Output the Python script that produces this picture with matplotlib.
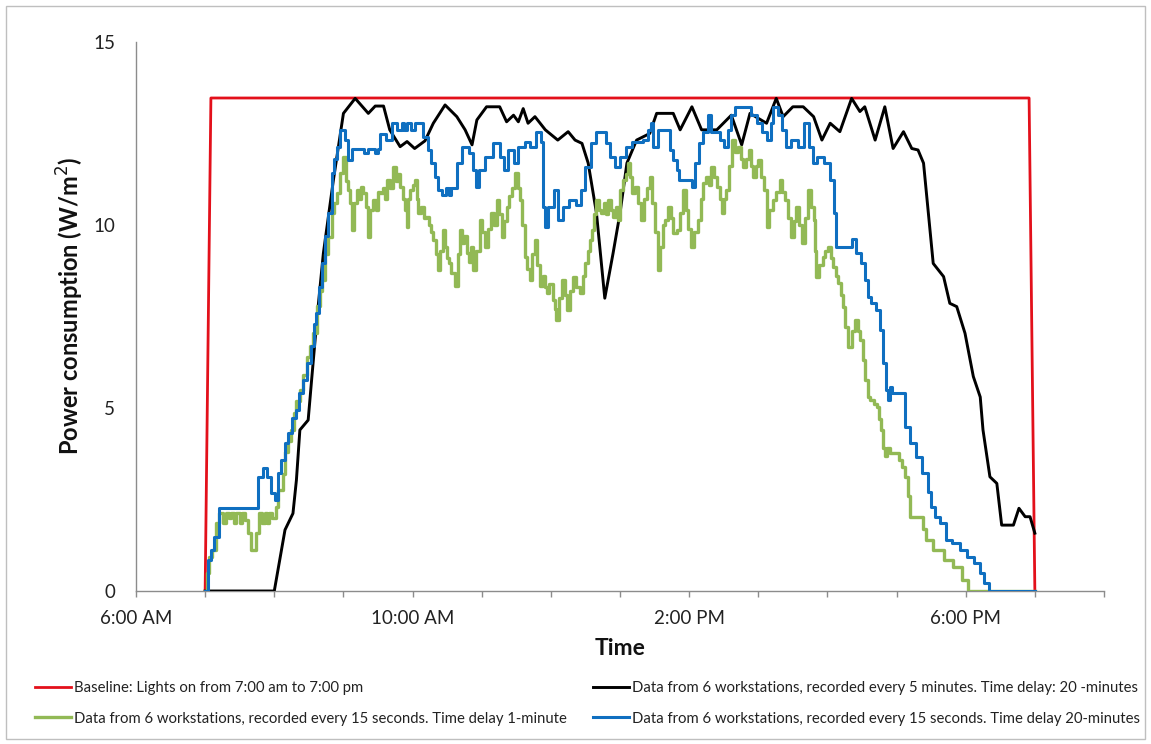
import matplotlib
matplotlib.use("Agg")
import matplotlib.pyplot as plt
from matplotlib.patches import Rectangle
from matplotlib.ticker import FixedLocator, FuncFormatter

plt.rcParams['font.family'] = ['Lato', 'DejaVu Sans']

# ---------------- data (hours of day, W/m2) ----------------
baseline_t = [7.0, 7.0833, 18.9167, 19.0]
baseline_v = [0.0, 13.47, 13.47, 0.0]

black_t = [7.0, 8.0, 8.155, 8.27, 8.32, 8.37, 8.49, 8.54, 8.62, 8.71, 8.855, 9.0, 9.17,
           9.36, 9.46, 9.58, 9.67, 9.82, 9.92, 10.03, 10.18, 10.3, 10.47, 10.64, 10.76,
           10.86, 10.93, 11.07, 11.26, 11.36, 11.46, 11.53, 11.6, 11.67, 11.77, 11.92,
           12.1, 12.25, 12.35, 12.45, 12.54, 12.66, 12.78, 12.9, 13.0, 13.1, 13.24, 13.43,
           13.53, 13.77, 13.87, 14.04, 14.18, 14.4, 14.61, 14.76, 14.88, 15.12, 15.26,
           15.36, 15.5, 15.65, 15.8, 15.92, 16.04, 16.18, 16.35, 16.47, 16.54, 16.69,
           16.83, 16.95, 17.1, 17.22, 17.31, 17.39, 17.46, 17.53, 17.68, 17.77, 17.87,
           17.99, 18.11, 18.21, 18.25, 18.35, 18.45, 18.52, 18.69, 18.77, 18.86, 18.93, 19.0]
black_v = [0.0, 0.0, 1.67, 2.12, 3.03, 4.4, 4.67, 5.77, 7.5, 9.23, 11.23, 13.05, 13.46,
           13.05, 13.25, 13.25, 12.6, 12.14, 12.28, 12.09, 12.3, 12.78, 13.28, 12.96, 12.6,
           12.19, 12.87, 13.23, 13.23, 12.82, 13.0, 12.82, 13.18, 12.78, 12.96, 12.6,
           12.32, 12.55, 12.32, 12.23, 11.69, 10.32, 8.0, 9.23, 10.32, 11.69, 12.32, 12.5,
           13.05, 13.05, 12.6, 13.23, 12.6, 12.6, 13.0, 12.19, 13.05, 12.78, 13.46,
           12.96, 13.23, 13.23, 12.96, 12.32, 12.78, 12.55, 13.46, 13.1, 13.23, 12.32,
           13.23, 12.09, 12.55, 12.09, 12.05, 11.69, 10.32, 8.95, 8.59, 7.86, 7.77,
           7.04, 5.86, 5.3, 4.4, 3.12, 2.94, 1.8, 1.8, 2.26, 2.03, 2.03, 1.58]

green_t = [7.00, 7.03, 7.06, 7.10, 7.15, 7.20, 7.26, 7.30, 7.35, 7.38, 7.42, 7.45, 7.50,
           7.53, 7.58, 7.62, 7.66, 7.74, 7.78, 7.82, 7.86, 7.90, 7.93, 7.97, 8.03, 8.06,
           8.12, 8.16, 8.20, 8.24, 8.28, 8.32, 8.37, 8.42, 8.48, 8.52, 8.56, 8.62, 8.66,
           8.69, 8.74, 8.78, 8.83, 8.87, 8.90, 8.95, 9.00, 9.04, 9.07, 9.10, 9.13, 9.15,
           9.19, 9.23, 9.26, 9.29, 9.33, 9.36, 9.38, 9.43, 9.47, 9.50, 9.53, 9.57, 9.60,
           9.63, 9.67, 9.72, 9.76, 9.79, 9.82, 9.86, 9.89, 9.92, 9.94, 9.96, 10.00, 10.04,
           10.06, 10.08, 10.12, 10.16, 10.20, 10.24, 10.27, 10.30, 10.34, 10.37, 10.40,
           10.44, 10.47, 10.50, 10.52, 10.56, 10.61, 10.65, 10.68, 10.72, 10.75, 10.78,
           10.82, 10.85, 10.88, 10.92, 10.97, 11.01, 11.05, 11.09, 11.14, 11.18, 11.22,
           11.25, 11.29, 11.32, 11.36, 11.40, 11.44, 11.48, 11.52, 11.55, 11.58, 11.62,
           11.66, 11.70, 11.73, 11.77, 11.80, 11.84, 11.88, 11.91, 11.94, 11.98, 12.03,
           12.06, 12.08, 12.12, 12.16, 12.20, 12.23, 12.27, 12.32, 12.36, 12.42, 12.46,
           12.49, 12.53, 12.56, 12.59, 12.63, 12.66, 12.70, 12.73, 12.77, 12.80, 12.83,
           12.87, 12.90, 12.94, 12.97, 13.00, 13.04, 13.08, 13.12, 13.15, 13.18, 13.22,
           13.26, 13.31, 13.35, 13.39, 13.43, 13.47, 13.50, 13.55, 13.58, 13.62, 13.65,
           13.70, 13.74, 13.77, 13.82, 13.87, 13.91, 13.95, 13.99, 14.03, 14.07, 14.13,
           14.17, 14.20, 14.24, 14.28, 14.32, 14.36, 14.40, 14.44, 14.47, 14.51, 14.54,
           14.58, 14.62, 14.66, 14.71, 14.75, 14.78, 14.82, 14.86, 14.90, 14.93, 14.97,
           15.00, 15.04, 15.08, 15.12, 15.16, 15.22, 15.26, 15.31, 15.35, 15.39, 15.43,
           15.48, 15.52, 15.55, 15.59, 15.63, 15.67, 15.72, 15.76, 15.80, 15.82, 15.84,
           15.88, 15.94, 15.97, 16.01, 16.05, 16.08, 16.12, 16.15, 16.19, 16.23, 16.26,
           16.30, 16.35, 16.40, 16.44, 16.47, 16.51, 16.54, 16.58, 16.62, 16.67, 16.71,
           16.75, 16.78, 16.81, 16.83, 16.86, 16.90, 16.95, 17.03, 17.08, 17.12, 17.16,
           17.20, 17.34, 17.38, 17.42, 17.53, 17.68, 17.82, 17.94, 18.03, 19.00]
green_v = [0.0, 0.5, 0.94, 1.12, 1.85, 2.12, 1.85, 2.12, 2.0, 2.12, 1.85, 2.12, 1.85,
           2.12, 1.95, 1.58, 1.12, 1.58, 2.12, 1.85, 2.12, 1.85, 2.12, 2.0, 2.3, 2.76,
           3.2, 3.8, 4.1, 4.4, 4.86, 5.2, 5.5, 5.9, 6.4, 6.7, 7.04, 7.8, 8.2,
           8.5, 9.2, 9.68, 10.32, 10.6, 10.87, 11.41, 11.87, 11.2, 10.96, 10.6, 9.86, 10.6,
           10.96, 10.7, 11.05, 10.87, 10.5, 9.68, 10.4, 10.68, 10.4, 10.9, 10.87, 11.0, 10.7,
           11.23, 11.0, 11.59, 11.2, 11.4, 11.05, 10.7, 10.4, 9.95, 10.7, 10.96, 11.1, 11.23,
           10.7, 10.32, 10.5, 10.2, 10.23, 10.0, 9.8, 9.59, 9.2, 8.77, 9.3,
           9.86, 9.4, 9.1, 8.95, 8.7, 8.32, 9.2, 9.86, 9.5, 9.7, 9.23,
           9.0, 9.4, 8.77, 9.3, 10.14, 9.8, 9.41, 9.9, 10.32, 10.0, 10.68,
           10.3, 9.68, 10.1, 10.5, 10.8, 11.0, 11.41, 11.0, 10.68, 10.0, 9.13,
           8.8, 8.5, 9.2, 9.59, 8.9, 8.32, 8.6, 8.3, 8.13, 8.4, 7.95,
           7.7, 7.4, 8.0, 8.5, 8.1, 7.68, 8.2, 8.59, 8.3, 8.13, 8.6,
           8.95, 9.3, 9.6, 9.86, 10.3, 10.68, 10.4, 10.32, 10.6, 10.3, 10.68,
           10.4, 10.23, 10.5, 10.14, 10.96, 11.23, 11.4, 11.69, 11.3, 10.87, 11.05,
           10.6, 10.14, 10.7, 11.0, 11.32, 10.6, 9.8, 8.77, 9.4, 10.0, 10.14,
           10.5, 10.2, 9.77, 9.86, 10.32, 10.96, 10.4, 9.9, 9.41, 9.8, 10.14,
           10.7, 11.14, 11.3, 11.1, 11.59, 11.3, 11.05, 10.7, 10.32, 10.7, 10.96,
           11.6, 12.32, 12.0, 12.14, 11.8, 11.59, 11.8, 12.05, 11.6, 11.32, 11.6,
           11.78, 11.3, 10.96, 9.95, 10.4, 10.68, 10.9, 11.23, 10.9, 10.68, 10.2,
           9.68, 10.1, 10.5, 10.0, 9.5, 10.2, 10.96, 10.5, 10.14, 9.3, 8.59,
           8.9, 9.13, 9.3, 9.41, 9.1, 8.86, 8.6, 8.41, 8.1, 7.77, 7.2,
           6.68, 7.1, 7.4, 7.1, 6.86, 6.3, 5.77, 5.31, 5.22, 5.1, 5.04,
           4.7, 4.4, 3.9, 3.7, 3.9, 3.76, 3.76, 3.58, 3.4, 3.12, 2.6,
           2.03, 2.03, 1.7, 1.39, 1.12, 0.85, 0.66, 0.3, 0.0, 0.0]

blue_t = [7.00, 7.04, 7.09, 7.13, 7.20, 7.77, 7.84, 7.89, 7.95, 8.01, 8.05, 8.09, 8.15,
          8.20, 8.25, 8.31, 8.36, 8.42, 8.47, 8.53, 8.58, 8.61, 8.65, 8.69, 8.74, 8.78,
          8.83, 8.87, 8.90, 8.95, 9.02, 9.07, 9.12, 9.30, 9.36, 9.45, 9.50, 9.53, 9.62,
          9.70, 9.78, 9.84, 9.88, 9.92, 9.98, 10.04, 10.15, 10.22, 10.27, 10.33, 10.37,
          10.42, 10.48, 10.52, 10.55, 10.64, 10.71, 10.82, 10.87, 10.92, 10.96, 11.05,
          11.17, 11.26, 11.32, 11.38, 11.46, 11.52, 11.63, 11.70, 11.78, 11.86, 11.88,
          11.92, 11.96, 12.04, 12.10, 12.18, 12.26, 12.36, 12.44, 12.50, 12.58, 12.66,
          12.80, 12.86, 12.93, 13.00, 13.08, 13.17, 13.33, 13.40, 13.45, 13.48, 13.55,
          13.72, 13.77, 13.82, 13.86, 14.04, 14.08, 14.14, 14.20, 14.27, 14.32, 14.44,
          14.50, 14.56, 14.60, 14.66, 14.90, 14.98, 15.06, 15.12, 15.18, 15.22, 15.29,
          15.34, 15.40, 15.48, 15.58, 15.66, 15.73, 15.79, 15.85, 15.95, 16.03, 16.09,
          16.12, 16.36, 16.42, 16.49, 16.55, 16.58, 16.63, 16.70, 16.76, 16.80, 16.85,
          16.88, 16.91, 16.94, 17.12, 17.20, 17.28, 17.37, 17.46, 17.50, 17.55, 17.63,
          17.72, 17.80, 17.92, 18.02, 18.12, 18.20, 18.27, 18.34, 19.00]
blue_v = [0.0, 0.85, 1.12, 1.48, 2.26, 3.12, 3.35, 3.12, 2.67, 2.49, 3.22, 3.58, 4.04,
          4.31, 4.72, 4.95, 5.4, 5.77, 6.22, 6.7, 7.3, 7.59, 8.3, 8.95, 9.7, 10.32,
          11.41, 11.8, 12.14, 12.6, 12.32, 11.78, 12.09, 11.96, 12.09, 11.96, 12.09, 12.5, 12.32,
          12.78, 12.6, 12.78, 12.6, 12.78, 12.6, 12.78, 12.41, 12.05, 11.69, 11.3, 10.96,
          10.82, 11.0, 10.82, 11.0, 11.69, 12.14, 11.96, 11.5, 11.05, 11.5, 11.87,
          12.23, 11.87, 11.5, 12.05, 11.69, 12.14, 12.28, 12.14, 12.55, 12.28, 10.5,
          9.95, 10.5, 10.96, 10.14, 10.5, 10.68, 10.55, 10.96, 11.59, 12.23, 12.55,
          12.23, 11.87, 11.59, 11.87, 12.14, 12.28, 12.32, 12.6, 12.78, 12.14, 12.6,
          12.05, 11.78, 11.5, 11.23, 11.05, 11.69, 12.23, 12.55, 13.0, 12.55, 12.32,
          12.14, 12.6, 13.0, 13.23, 13.0, 12.78, 12.55, 12.32, 12.8, 13.23, 13.0,
          12.6, 12.14, 12.32, 12.14, 12.78, 12.14, 11.69, 11.87, 11.69, 11.23, 10.32,
          9.41, 9.63, 9.23, 8.95, 8.5, 8.04, 7.86, 7.68, 7.13, 6.22, 5.49,
          5.22, 5.58, 5.4, 4.49, 4.04, 3.67, 3.22, 2.7, 2.3, 2.03, 1.85,
          1.39, 1.3, 1.12, 0.94, 0.76, 0.48, 0.21, 0.0, 0.0]

labels = ["Baseline: Lights on from 7:00 am to 7:00 pm",
          "Data from 6 workstations, recorded every 5 minutes. Time delay: 20 -minutes",
          "Data from 6 workstations, recorded every 15 seconds. Time delay 1-minute",
          "Data from 6 workstations, recorded every 15 seconds. Time delay 20-minutes"]
colors = ["#E3101B", "#000000", "#92B955", "#0F6FC0"]

x_ticks = list(range(6, 21))
x_labelled = {6: "6:00 AM", 10: "10:00 AM", 14: "2:00 PM", 18: "6:00 PM"}
y_ticks = [0, 5, 10, 15]

# ---------------- figure ----------------
W, H = 1151, 744
fig = plt.figure(figsize=(W / 100, H / 100), dpi=100)
fig.patches.append(Rectangle((6 / W, 5 / H), (1145 - 6) / W, (738 - 5) / H,
                             transform=fig.transFigure, fill=False,
                             edgecolor="#BFBFBF", lw=1.0))

ax = fig.add_axes([136 / W, 1 - 591 / H, (1104 - 136) / W, (591 - 42) / H])

l_red, = ax.plot(baseline_t, baseline_v, color=colors[0], lw=2.0, zorder=2)
l_blk, = ax.plot(black_t, black_v, color=colors[1], lw=2.1, zorder=3,
                 solid_joinstyle="round")
l_grn, = ax.plot(green_t, green_v, color=colors[2], lw=2.4, drawstyle="steps-post", zorder=4)
l_blu, = ax.plot(blue_t, blue_v, color=colors[3], lw=2.2, drawstyle="steps-post", zorder=5)

ax.set_xlim(6, 20)
ax.set_ylim(0, 15)
for s in ["top", "right"]:
    ax.spines[s].set_visible(False)
for s in ["left", "bottom"]:
    ax.spines[s].set_color("#8C8C8C")
    ax.spines[s].set_linewidth(1.0)

ax.xaxis.set_major_locator(FixedLocator(x_ticks))
ax.xaxis.set_major_formatter(FuncFormatter(lambda v, p: x_labelled.get(int(round(v)), "")))
ax.set_yticks(y_ticks)
ax.tick_params(axis="x", direction="out", length=4, width=1.0, color="#8C8C8C",
               labelsize=13.5, pad=10, labelcolor="#222222")
ax.tick_params(axis="y", length=0, labelsize=13.5, pad=15, labelcolor="#222222")

ax.set_xlabel("Time", fontsize=16.5, fontweight="bold", color="#111111")
ax.set_ylabel("Power consumption (W/m$^{2}$)", fontsize=17, fontweight="bold", color="#111111")
ax.xaxis.set_label_coords(0.5, -0.085)
ax.yaxis.set_label_coords(-0.052, 0.52)

leg_kw = dict(frameon=False, fontsize=10.7, handlelength=2.4, handletextpad=0.2,
              borderpad=0, borderaxespad=0, labelspacing=1.1, labelcolor="#222222")
fig.legend([l_red, l_grn], [labels[0], labels[2]], loc="center left",
           bbox_to_anchor=(35 / W, 1 - 703.5 / H), **leg_kw)
fig.legend([l_blk, l_blu], [labels[1], labels[3]], loc="center left",
           bbox_to_anchor=(593 / W, 1 - 703.5 / H), **leg_kw)

fig.savefig("out.png", dpi=100)
